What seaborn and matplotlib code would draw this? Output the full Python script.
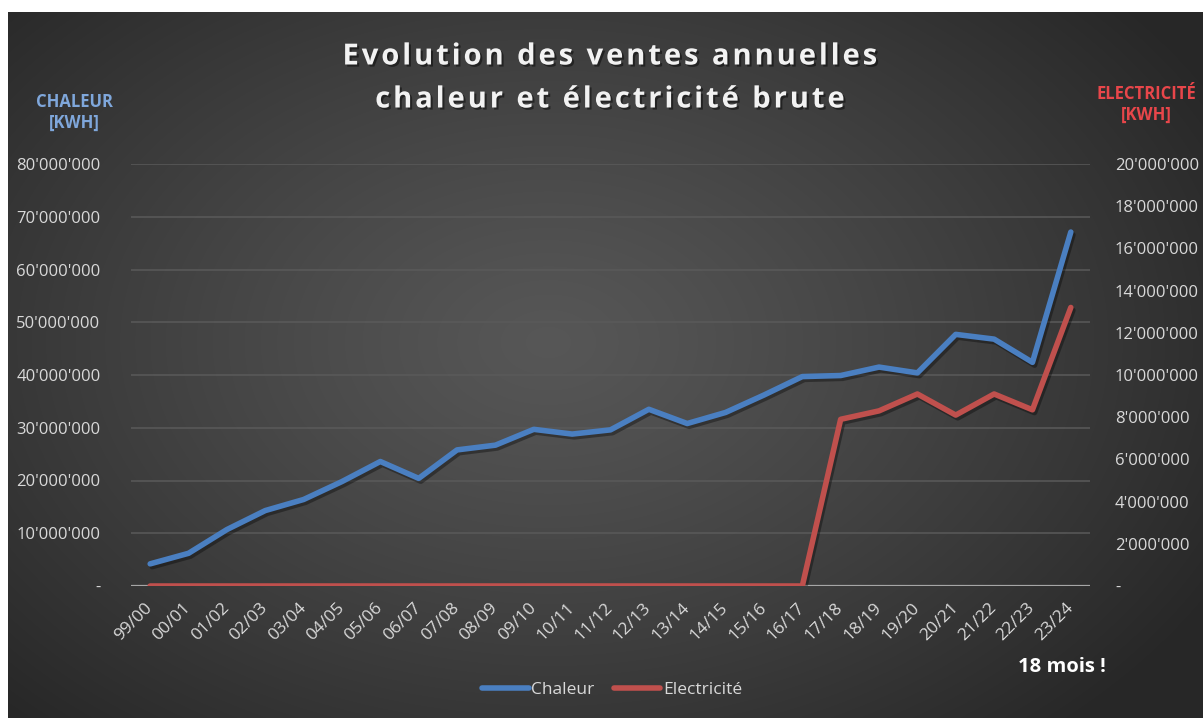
import numpy as np
import pandas as pd
import matplotlib
matplotlib.use("Agg")
import matplotlib.pyplot as plt
import matplotlib.patheffects as pe
from matplotlib.ticker import FuncFormatter
import seaborn as sns

# ---- data ----
categories = ["99/00", "00/01", "01/02", "02/03", "03/04", "04/05", "05/06", "06/07",
              "07/08", "08/09", "09/10", "10/11", "11/12", "12/13", "13/14", "14/15",
              "15/16", "16/17", "17/18", "18/19", "19/20", "20/21", "21/22", "22/23", "23/24"]
chaleur = [4.2e6, 6.2e6, 10.7e6, 14.3e6, 16.4e6, 19.8e6, 23.6e6, 20.4e6, 25.8e6, 26.7e6,
           29.7e6, 28.8e6, 29.6e6, 33.5e6, 30.8e6, 32.9e6, 36.2e6, 39.7e6, 39.9e6, 41.5e6,
           40.4e6, 47.7e6, 46.8e6, 42.4e6, 67.1e6]
electricite = [0, 0, 0, 0, 0, 0, 0, 0, 0, 0, 0, 0, 0, 0, 0, 0, 0, 0,
               7.9e6, 8.3e6, 9.1e6, 8.1e6, 9.1e6, 8.35e6, 13.2e6]
left_ticks = [0, 10e6, 20e6, 30e6, 40e6, 50e6, 60e6, 70e6, 80e6]
right_ticks = [0, 2e6, 4e6, 6e6, 8e6, 10e6, 12e6, 14e6, 16e6, 18e6, 20e6]
title_lines = ["Evolution des ventes annuelles", "chaleur et électricité brute"]

df = pd.DataFrame({"pos": np.arange(len(categories)), "periode": categories,
                   "Chaleur": chaleur, "Electricité": electricite})

sns.set_theme(style="dark")
plt.rcParams["font.family"] = ["Open Sans", "DejaVu Sans"]

W, H = 1203, 718
fig = plt.figure(figsize=(W / 100, H / 100), dpi=100)
fig.patch.set_facecolor("white")

# background gradient panel
bg = fig.add_axes([8 / W, 0, 1 - 8 / W, 1 - 12 / H])
bg.set_axis_off()
yy, xx = np.mgrid[0:706, 0:1195]
cx, cy = 540, 330
r = np.sqrt(((xx - cx) / 760.0) ** 2 + ((yy - cy) / 520.0) ** 2)
r = np.clip(r, 0, 1)
val = 0.34 - (0.34 - 0.155) * r ** 1.2
img = np.dstack([val, val, val])
bg.imshow(img, aspect="auto", extent=[0, 1, 0, 1], origin="upper")
bg.set_xlim(0, 1); bg.set_ylim(0, 1)

left, right = 131 / W, 1090 / W
bottom, top = 1 - 586 / H, 1 - 164 / H
ax = fig.add_axes([left, bottom, right - left, top - bottom])
ax.patch.set_alpha(0)
ax2 = ax.twinx()
ax2.patch.set_alpha(0)

blue = "#4A7FC1"
red = "#C0504D"
shadow = [pe.SimpleLineShadow(offset=(1.5, -2), alpha=0.35, shadow_color="black"), pe.Normal()]

ax.axhline(0, color="#a6a6a6", lw=1.6, zorder=1)
sns.lineplot(data=df, x="pos", y="Chaleur", ax=ax, color=blue, lw=4,
             solid_capstyle="round", solid_joinstyle="round", zorder=3)
sns.lineplot(data=df, x="pos", y="Electricité", ax=ax2, color=red, lw=4,
             solid_capstyle="round", solid_joinstyle="round", zorder=3)
for a in (ax, ax2):
    for ln in a.get_lines()[-1:]:
        ln.set_path_effects(shadow)

ax.set_xlim(-0.5, len(categories) - 0.5)
ax.set_ylim(0, 80e6)
ax2.set_ylim(0, 20e6)
ax.set_yticks(left_ticks)
ax2.set_yticks(right_ticks)

def fmt(v, _):
    if abs(v) < 1:
        return "-"
    return f"{int(round(v)):,}".replace(",", "'")

ax.yaxis.set_major_formatter(FuncFormatter(fmt))
ax2.yaxis.set_major_formatter(FuncFormatter(fmt))
ax.grid(axis="y", color="#5a5a5a", lw=1.1)
ax.grid(axis="x", visible=False)
ax2.grid(False)

ax.set_xticks(df["pos"])
ax.set_xticklabels(categories, rotation=45, ha="right", va="center", rotation_mode="anchor")
tc = "#d9d9d9"
ax.tick_params(axis="x", length=0, pad=14, labelsize=12.5, labelcolor=tc)
ax.tick_params(axis="y", length=0, pad=22, labelsize=12, labelcolor=tc)
ax2.tick_params(axis="y", length=0, pad=18, labelsize=12, labelcolor=tc)
for lab in ax2.get_yticklabels():
    lab.set_ha("left")
ax.set_xlabel(""); ax.set_ylabel(""); ax2.set_ylabel("")
for a in (ax, ax2):
    for s in a.spines.values():
        s.set_visible(False)

# titles and labels (letter-spaced with hair spaces)
title_fx = [pe.withSimplePatchShadow(offset=(1.5, -1.5), shadow_rgbFace="black", alpha=0.45)]
for line, yp in zip(title_lines, (57, 100)):
    spaced = "\u200a".join(line)
    fig.text(609 / W, 1 - yp / H, spaced, ha="center", va="center",
             color="#f2f2f2", fontsize=21, fontweight="bold", path_effects=title_fx)
fig.text(74 / W, 1 - 112 / H, "CHALEUR\n[KWH]", ha="center", va="center",
         color="#7fa7db", fontsize=12, fontweight="bold", linespacing=1.2)
fig.text(1146 / W, 1 - 104 / H, "ELECTRICITÉ\n[KWH]", ha="center", va="center",
         color="#e8464a", fontsize=12, fontweight="bold", linespacing=1.2)
fig.text(1062 / W, 1 - 667 / H, "18 mois !", ha="center", va="center",
         color="white", fontsize=14.5, fontweight="bold")

handles = [plt.Line2D([], [], color=blue, lw=4, solid_capstyle="round"),
           plt.Line2D([], [], color=red, lw=4, solid_capstyle="round")]
leg = fig.legend(handles, ["Chaleur", "Electricité"], loc="center", ncol=2,
                 bbox_to_anchor=(612 / W, 1 - 690 / H), frameon=False, fontsize=12.5,
                 handlelength=2.7, handletextpad=0.15, columnspacing=1.1)
for t in leg.get_texts():
    t.set_color(tc)

fig.savefig("out.png", dpi=100, facecolor=fig.get_facecolor())
